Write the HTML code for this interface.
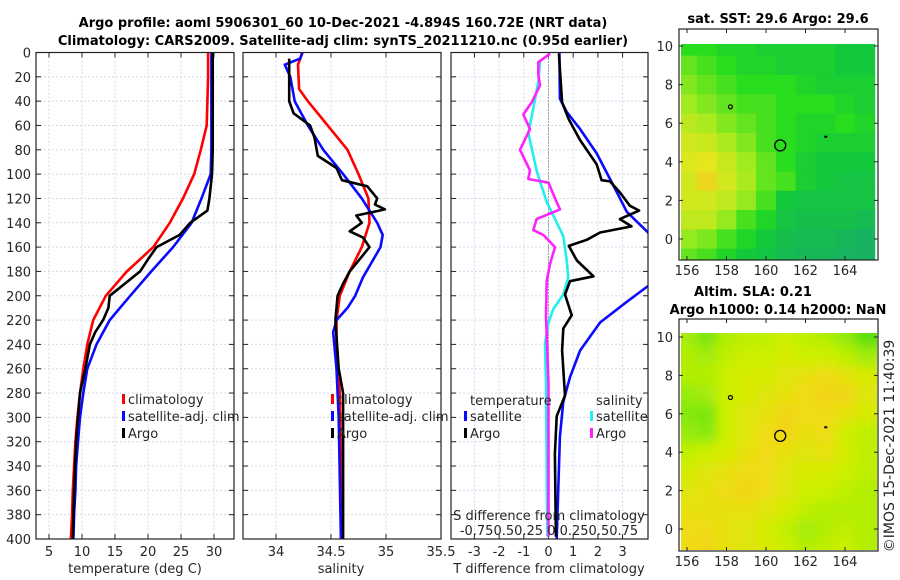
<!DOCTYPE html>
<html><head><meta charset="utf-8"><style>
body{margin:0;background:#fff;}
svg{display:block;font-family:"DejaVu Sans","Liberation Sans",sans-serif;}
.t{font-size:13px;fill:#262626;}
.b{font-size:13px;font-weight:bold;fill:#000;}
</style></head><body>
<svg id="chart" width="900" height="580" viewBox="0 0 900 580" xmlns="http://www.w3.org/2000/svg">
<rect width="900" height="580" fill="#fff"/>
<text class="b" x="343" y="27" text-anchor="middle">Argo profile: aoml 5906301_60 10-Dec-2021 -4.894S 160.72E (NRT data)</text>
<text class="b" x="343" y="45" text-anchor="middle">Climatology: CARS2009. Satellite-adj clim: synTS_20211210.nc (0.95d earlier)</text>
<text class="b" x="778" y="23" text-anchor="middle">sat. SST: 29.6 Argo: 29.6</text>
<text class="b" x="753" y="296" text-anchor="middle">Altim. SLA: 0.21</text>
<text class="b" x="778" y="314" text-anchor="middle">Argo h1000: 0.14 h2000: NaN</text>
<text class="t" style="font-size:14px" transform="translate(894,446) rotate(-90)" text-anchor="middle">©IMOS 15-Dec-2021 11:40:39</text>
<g id="layer"></g>
</svg>
<script>
// ---- profile data ----
const depthStd=[0,20,40,60,80,100,120,140,160,180,200,220,240,260,280,300,320,340,360,380,400];
const tempClim=[29.1,29.1,29.0,28.9,28.0,27.0,25.3,23.3,20.8,16.8,13.6,11.7,10.8,10.2,9.7,9.3,9.0,8.8,8.6,8.5,8.3];
const tempSat=[29.6,29.6,29.6,29.6,29.6,29.5,28.1,26.6,23.8,20.5,17.3,14.2,12.2,10.8,10.2,9.7,9.4,9.1,9.0,8.8,8.7];
const argoDepth=[0,20,40,60,80,100,110,120,130,140,150,160,170,180,190,200,210,220,230,240,260,280,300,320,360,400];
const tempArgo=[29.8,29.8,29.8,29.8,29.8,29.7,29.5,29.3,29.0,26.4,24.8,21.3,20.0,18.8,16.5,14.2,14.0,13.2,12.0,11.2,10.5,9.7,9.4,9.1,8.8,8.6];
const salDepth=[0,10,30,40,60,80,100,120,140,160,180,200,220,240,280,400];
const salClim=[34.24,34.2,34.21,34.29,34.47,34.65,34.75,34.84,34.85,34.78,34.67,34.58,34.55,34.55,34.58,34.6];
const salSatDepth=[0,5,10,20,40,60,80,100,120,140,150,160,185,200,210,220,230,260,300,400];
const salSat=[34.24,34.22,34.08,34.13,34.17,34.29,34.43,34.61,34.78,34.92,34.97,34.95,34.79,34.72,34.65,34.55,34.52,34.55,34.57,34.59];
const salArgoDepth=[5,40,50,60,70,85,95,105,110,120,125,129,134,140,147,152,160,170,180,190,200,220,260,280,400];
const salArgo=[34.12,34.12,34.16,34.31,34.35,34.38,34.55,34.6,34.83,34.92,34.9,34.99,34.73,34.78,34.67,34.79,34.85,34.76,34.67,34.61,34.56,34.54,34.57,34.61,34.61];
const dTSatDepth=[0,38,49,63,83,109,131,148,170,192,205,222,245,267,287,316,400];
const dTSat=[0.44,0.46,0.74,1.28,1.95,2.62,3.17,4.03,5.0,4.03,3.17,2.09,1.28,0.87,0.6,0.46,0.33];
const dTArgoDepth=[1,41,55,72,92,105,106,115,126,130,137,143,148,154,159,171,184,188,199,216,227,245,282,299,330,398];
const dTArgo=[0.42,0.55,0.82,1.28,1.95,2.15,2.49,2.89,3.29,3.67,2.89,3.36,2.09,1.55,0.82,1.15,1.82,0.87,0.67,0.94,0.6,0.55,0.67,0.33,0.26,0.3];
const dSSatDepth=[1,7,24,46,66,97,123,137,151,171,185,199,211,222,239,273,398];
const dSSat=[0.015,-0.086,-0.103,-0.154,-0.204,-0.12,-0.018,0.066,0.15,0.184,0.2,0.15,0.049,0,-0.035,-0.025,-0.012];
const dSArgoDepth=[1,8,18,27,41,51,63,80,97,104,107,120,129,137,146,150,160,174,188,216,273,398];
const dSArgo=[0.015,-0.103,-0.103,-0.086,-0.17,-0.255,-0.187,-0.288,-0.187,-0.204,0,0.066,0.116,-0.12,-0.154,-0.053,0.066,0.015,-0.018,-0.025,0,0];
const depthTicks=[0,20,40,60,80,100,120,140,160,180,200,220,240,260,280,300,320,340,360,380,400];
const tTicks=[5,10,15,20,25,30];
const sTicks=[34,34.5,35,35.5];
const dTTicks=[-3,-2,-1,0,1,2,3];
// ---- map data (rows lat 10 -> -1, cols lon 156 -> 165) ----
const mapLons=[156,157,158,159,160,161,162,163,164,165];
const mapLats=[10,9,8,7,6,5,4,3,2,1,0,-1];
const sstGrid=[
[.5,.5,.45,.45,.4,.4,.4,.4,.35,.35],
[.6,.55,.5,.45,.45,.4,.4,.4,.35,.35],
[.65,.6,.55,.5,.5,.5,.45,.4,.4,.4],
[.7,.65,.6,.55,.55,.5,.5,.5,.45,.4],
[.75,.72,.65,.6,.55,.5,.45,.45,.5,.45],
[.8,.78,.72,.65,.55,.5,.45,.4,.4,.4],
[.82,.84,.78,.7,.6,.5,.4,.35,.35,.35],
[.8,.88,.8,.72,.6,.55,.4,.35,.3,.3],
[.8,.8,.76,.68,.55,.35,.3,.3,.3,.3],
[.76,.76,.68,.55,.45,.3,.25,.25,.25,.2],
[.68,.64,.55,.45,.35,.25,.2,.2,.15,.1],
[.6,.55,.45,.35,.3,.2,.15,.15,.1,.1]];
const slaGrid=[
[.45,.3,.5,.55,.55,.6,.55,.5,.4,.2],
[.5,.45,.55,.6,.6,.65,.6,.6,.55,.45],
[.5,.5,.6,.65,.65,.7,.75,.8,.75,.65],
[.4,.45,.6,.65,.7,.75,.8,.85,.85,.7],
[.35,.3,.6,.7,.75,.85,.8,.8,.75,.65],
[.4,.35,.6,.7,.8,.85,.75,.8,.6,.55],
[.55,.6,.65,.75,.8,.75,.7,.75,.65,.55],
[.65,.7,.75,.8,.8,.7,.65,.65,.6,.55],
[.7,.75,.8,.85,.8,.7,.6,.6,.55,.5],
[.75,.75,.75,.75,.7,.65,.55,.5,.5,.5],
[.8,.8,.75,.7,.65,.55,.45,.5,.55,.5],
[.8,.85,.75,.7,.65,.6,.5,.55,.6,.5]];
const lonTicks=[156,158,160,162,164];
const latTicks=[0,2,4,6,8,10];
const argoLon=160.72, argoLat=4.85;

const NS='http://www.w3.org/2000/svg';
const L=document.getElementById('layer');
function mk(tag,attrs,parent){const e=document.createElementNS(NS,tag);for(const k in attrs)e.setAttribute(k,attrs[k]);(parent||L).appendChild(e);return e;}
const TOP=52.5,BOT=539;
const yD=d=>TOP+d*(BOT-TOP)/400;
const xT=t=>16+6.6*t;
const xS=s=>276+110*(s-34);
const xdT=v=>548.5+24.7*v;
const xdS=v=>548.5+98.8*v;
const panels=[[36,234],[243,441],[451,648]];

const defs=mk('defs',{});
panels.forEach((p,i)=>{const c=mk('clipPath',{id:'pc'+i},defs);mk('rect',{x:p[0],y:TOP,width:p[1]-p[0],height:BOT-TOP},c);});
const c1=mk('clipPath',{id:'mc0'},defs);mk('rect',{x:681,y:44,width:196,height:216},c1);
const c2=mk('clipPath',{id:'mc1'},defs);mk('rect',{x:681,y:333,width:196,height:217},c2);
const f=mk('filter',{id:'blur',x:'-5%',y:'-5%',width:'110%',height:'110%'},defs);mk('feGaussianBlur',{stdDeviation:'6'},f);

function panelGrid(i,xticks,xf){
  const p=panels[i];
  const g=mk('g',{});
  
  
  depthTicks.forEach(d=>{const y=yD(d);
    mk('line',{x1:p[0],x2:p[1],y1:y,y2:y,stroke:'#d4d9ee','stroke-dasharray':'2,2','stroke-width':1},g);
    mk('line',{x1:p[0],x2:p[0]+5,y1:y,y2:y,stroke:'#222'},g);mk('line',{x1:p[1]-5,x2:p[1],y1:y,y2:y,stroke:'#222'},g);});
  xticks.forEach(v=>{const x=xf(v);if(x<p[0]-0.5||x>p[1]+0.5)return;
    mk('line',{x1:x,x2:x,y1:TOP,y2:BOT,stroke:'#d4d9ee','stroke-dasharray':'2,2'},g);
    mk('line',{x1:x,x2:x,y1:BOT-5,y2:BOT,stroke:'#222'},g);mk('line',{x1:x,x2:x,y1:TOP,y2:TOP+5,stroke:'#222'},g);});
}
panelGrid(0,tTicks,xT);panelGrid(1,sTicks,xS);panelGrid(2,dTTicks,xdT);
mk('line',{x1:548.5,x2:548.5,y1:TOP,y2:BOT,stroke:'#555','stroke-dasharray':'1,2'});

function line(depths,vals,xf,color,clip,name){
  const pts=depths.map((d,i)=>xf(vals[i]).toFixed(1)+','+yD(d).toFixed(1)).join(' ');
  const e=mk('polyline',{points:pts,fill:'none',stroke:color,'stroke-width':2.6,'stroke-linejoin':'round','clip-path':'url(#'+clip+')'});
  
  
}
line(depthStd,tempClim,xT,'#ff0000','pc0','temp-climatology-line');
line(depthStd,tempSat,xT,'#0a0aff','pc0','temp-satellite-line');
line(argoDepth,tempArgo,xT,'#000','pc0','temp-argo-line');
line(salDepth,salClim,xS,'#ff0000','pc1','sal-climatology-line');
line(salSatDepth,salSat,xS,'#0a0aff','pc1','sal-satellite-line');
line(salArgoDepth,salArgo,xS,'#000','pc1','sal-argo-line');
line(dSSatDepth,dSSat,xdS,'#22eeee','pc2','dS-satellite-line');
line(dSArgoDepth,dSArgo,xdS,'#ff22ff','pc2','dS-argo-line');
line(dTSatDepth,dTSat,xdT,'#0a0aff','pc2','dT-satellite-line');
line(dTArgoDepth,dTArgo,xdT,'#000','pc2','dT-argo-line');

panels.forEach((p,i)=>{const r=mk('rect',{x:p[0],y:TOP,width:p[1]-p[0],height:BOT-TOP,fill:'none',stroke:'#222','stroke-width':1.2});
  
  });

function txt(x,y,s,anchor,name,cls){const e=mk('text',{x:x,y:y,'text-anchor':anchor||'middle',class:cls||'t'});e.textContent=s;
  
  return e;}
depthTicks.forEach(d=>txt(31,yD(d)+5,String(d),'end','depth-tick-label'));
tTicks.forEach(v=>txt(xT(v),556,String(v),'middle','temp-tick-label'));
sTicks.forEach(v=>txt(xS(v),556,String(v),'middle','sal-tick-label'));
dTTicks.forEach(v=>txt(xdT(v),556,String(v),'middle','dT-tick-label'));
txt(135,573,'temperature (deg C)','middle','temp-axis-title');
txt(341,573,'salinity','middle','sal-axis-title');
txt(549,573,'T difference from climatology','middle','dT-axis-title');
txt(549,520,'S difference from climatology','middle','dS-axis-title');
txt(549,535,'-0.750.50.25 0 0.250.50.75','middle','dS-tick-labels');

function leg(x,y,color,label,name){
  const m=mk('rect',{x:x,y:y-6,width:3,height:10,fill:color});
  
  
  txt(x+6,y+4,label,'start',name);
}
leg(122,400,'#ff0000','climatology','legend-temp-climatology');
leg(122,417,'#0a0aff','satellite-adj. clim','legend-temp-satellite');
leg(122,434,'#000','Argo','legend-temp-argo');
leg(331,400,'#ff0000','climatology','legend-sal-climatology');
leg(331,417,'#0a0aff','satellite-adj. clim','legend-sal-satellite');
leg(331,434,'#000','Argo','legend-sal-argo');
txt(470,405,'temperature','start','legend-temperature-header');
txt(596,405,'salinity','start','legend-salinity-header');
leg(464,417,'#0a0aff','satellite','legend-dT-satellite');
leg(464,434,'#000','Argo','legend-dT-argo');
leg(590,417,'#22eeee','satellite','legend-dS-satellite');
leg(590,434,'#ff22ff','Argo','legend-dS-argo');

function lerpCol(stops,v){for(let i=1;i<stops.length;i++){if(v<=stops[i][0]||i==stops.length-1){const a=stops[i-1],b=stops[i];const t=Math.max(0,Math.min(1,(v-a[0])/(b[0]-a[0])));
  const c=[0,1,2].map(k=>Math.round(a[1][k]+(b[1][k]-a[1][k])*t));return 'rgb('+c.join(',')+')';}}}
const sstStops=[[0,[25,170,110]],[0.35,[20,200,60]],[0.5,[40,220,30]],[0.7,[160,235,30]],[0.85,[235,230,30]],[1,[240,150,30]]];
const slaStops=[[0,[30,210,20]],[0.4,[150,235,10]],[0.6,[205,240,0]],[0.8,[240,220,20]],[1,[245,190,30]]];
const lonX=l=>687+(l-156)*19.75;
function drawMap(grid,stops,top,frameTop,frameBot,lat0y,latPx,clip,blur,name){
  mk('rect',{x:679,y:frameTop,width:199,height:frameBot-frameTop,fill:'#fff'});
  const g=mk('g',{'clip-path':'url(#'+clip+')'});
  
  
  const inner=mk('g',blur?{filter:'url(#blur)'}:{},g);
  grid.forEach((row,r)=>row.forEach((v,c)=>{
    const x0=lonX(mapLons[c]-0.5), y0=lat0y-(mapLats[r]+0.5)*latPx;
    const cell=mk('rect',{x:x0-(blur?12:0)*(c==0?1:0),y:y0-(blur?12:0)*(r==0?1:0),width:19.75+0.6+(blur&&(c==0||c==9)?12:0),height:latPx+0.6+(blur&&(r==0||r==11)?12:0),fill:lerpCol(stops,v)},inner);
    
    
  }));
  const circ=mk('circle',{cx:lonX(argoLon),cy:lat0y-argoLat*latPx,r:5.5,fill:'none',stroke:'#000','stroke-width':1.3});
  
  
  mk('circle',{cx:lonX(158.2),cy:lat0y-6.85*latPx,r:2,fill:'none',stroke:'#000','stroke-width':1.2});
  mk('rect',{x:lonX(162.95),y:lat0y-5.35*latPx,width:3,height:2,fill:'#000'});
  const fr=mk('rect',{x:679,y:frameTop,width:199,height:frameBot-frameTop,fill:'none',stroke:'#222','stroke-width':1.2});
  
  
  lonTicks.forEach(l=>{const x=lonX(l);mk('line',{x1:x,x2:x,y1:frameBot-4,y2:frameBot,stroke:'#222'});mk('line',{x1:x,x2:x,y1:frameTop,y2:frameTop+4,stroke:'#222'});
    txt(x,frameBot+15,String(l),'middle',name+'-lon-label');});
  latTicks.forEach(la=>{const y=lat0y-la*latPx;mk('line',{x1:679,x2:683,y1:y,y2:y,stroke:'#222'});mk('line',{x1:874,x2:878,y1:y,y2:y,stroke:'#222'});
    txt(673,y+5,String(la),'end',name+'-lat-label');});
}
drawMap(sstGrid,sstStops,44,29,260,239,19.3,'mc0',false,'sst-map');
drawMap(slaGrid,slaStops,333,319,551,529,19.2,'mc1',true,'sla-map');
</script>
</body></html>
